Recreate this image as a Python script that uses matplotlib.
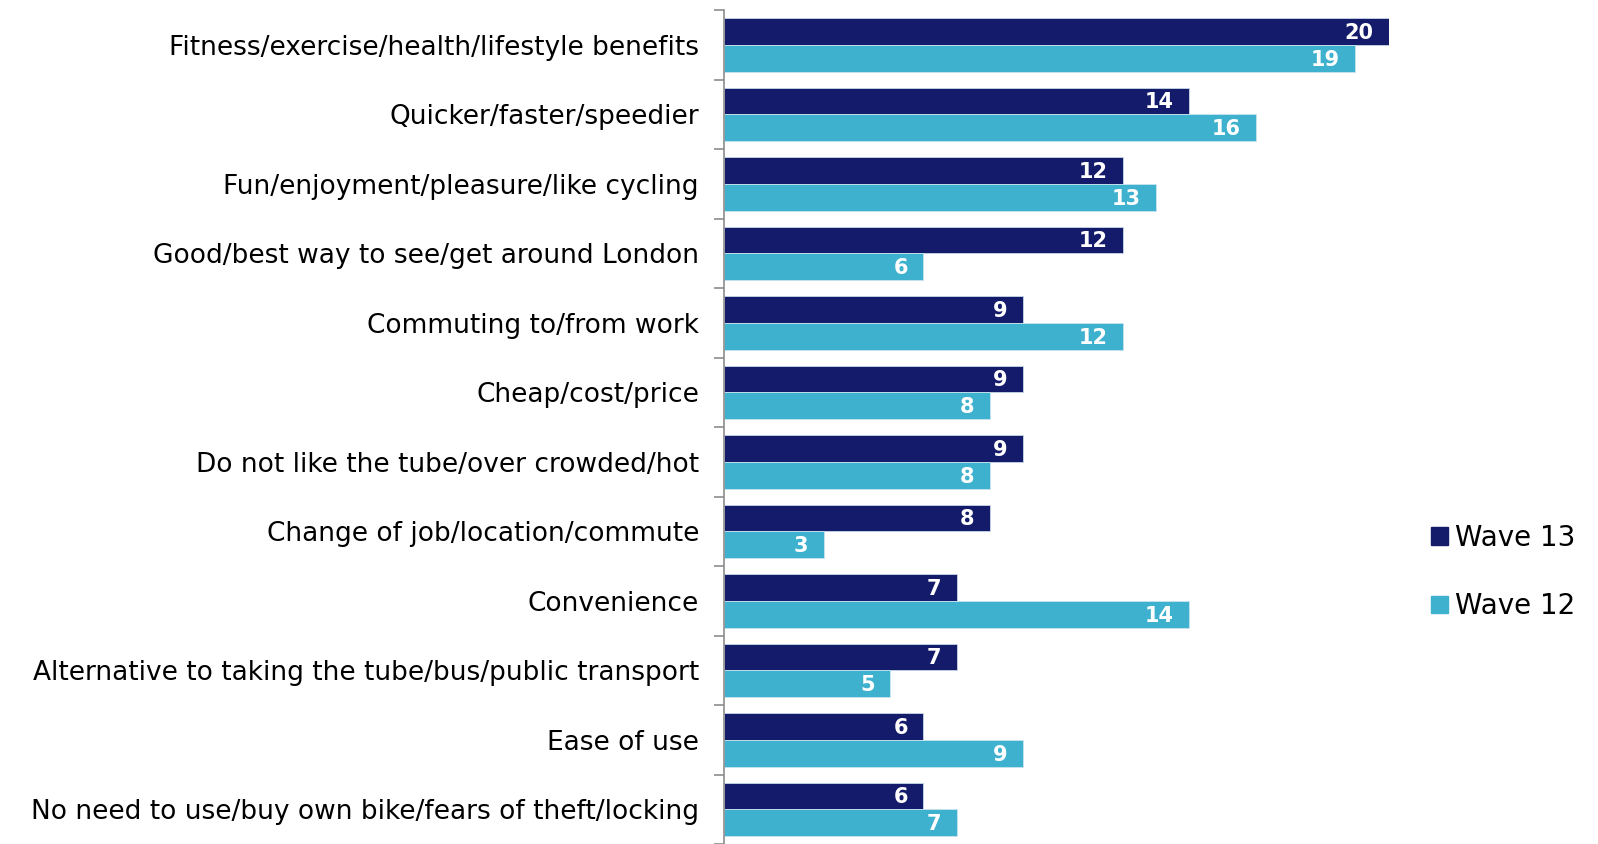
import numpy as np
import matplotlib.pyplot as plt
from matplotlib.patches import Patch

categories = [
    'Fitness/exercise/health/lifestyle benefits',
    'Quicker/faster/speedier',
    'Fun/enjoyment/pleasure/like cycling',
    'Good/best way to see/get around London',
    'Commuting to/from work',
    'Cheap/cost/price',
    'Do not like the tube/over crowded/hot',
    'Change of job/location/commute',
    'Convenience',
    'Alternative to taking the tube/bus/public transport',
    'Ease of use',
    'No need to use/buy own bike/fears of theft/locking',
]
wave13 = [20, 14, 12, 12, 9, 9, 9, 8, 7, 7, 6, 6]
wave12 = [19, 16, 13, 6, 12, 8, 8, 3, 14, 5, 9, 7]

dark = '#141B6B'
light = '#3EB1CE'

fig = plt.figure(figsize=(15.98, 8.44), dpi=100)
ax = fig.add_axes([0.453, 0.0, 0.416, 0.988])

n = len(categories)
y = np.arange(n)
h = 0.385
b1 = ax.barh(y - h / 2, wave13, height=h, color=dark, edgecolor='#C8D8E8', linewidth=0.6)
b2 = ax.barh(y + h / 2, wave12, height=h, color=light, edgecolor='#C8E4EE', linewidth=0.6)

# value labels inside the bar ends
for bars, vals in ((b1, wave13), (b2, wave12)):
    for r, v in zip(bars, vals):
        ax.annotate(str(v), (r.get_width(), r.get_y() + r.get_height() / 2),
                    xytext=(-11, -1), textcoords='offset points',
                    ha='right', va='center', color='white',
                    fontsize=15, fontweight='bold')

ax.set_xlim(0, 20)
ax.set_ylim(n - 0.5, -0.5)
ax.set_yticks(y)
ax.set_yticklabels(categories, fontsize=19)
ax.tick_params(axis='y', which='major', length=0, pad=18)
ax.set_yticks(np.arange(-0.5, n, 1), minor=True)
ax.tick_params(axis='y', which='minor', length=7, color='#8C8C8C', width=1.2)
ax.set_xticks([])
for s in ('top', 'right', 'bottom'):
    ax.spines[s].set_visible(False)
ax.spines['left'].set_color('#8C8C8C')
ax.spines['left'].set_linewidth(1.2)

handles = [Patch(color=dark, label='Wave 13'), Patch(color=light, label='Wave 12')]
fig.legend(handles=handles, loc='center left', bbox_to_anchor=(0.880, 0.322),
           frameon=False, fontsize=20, handlelength=0.6, handleheight=0.6,
           handletextpad=0.25, labelspacing=1.45)

fig.savefig('out.png', dpi=100)
